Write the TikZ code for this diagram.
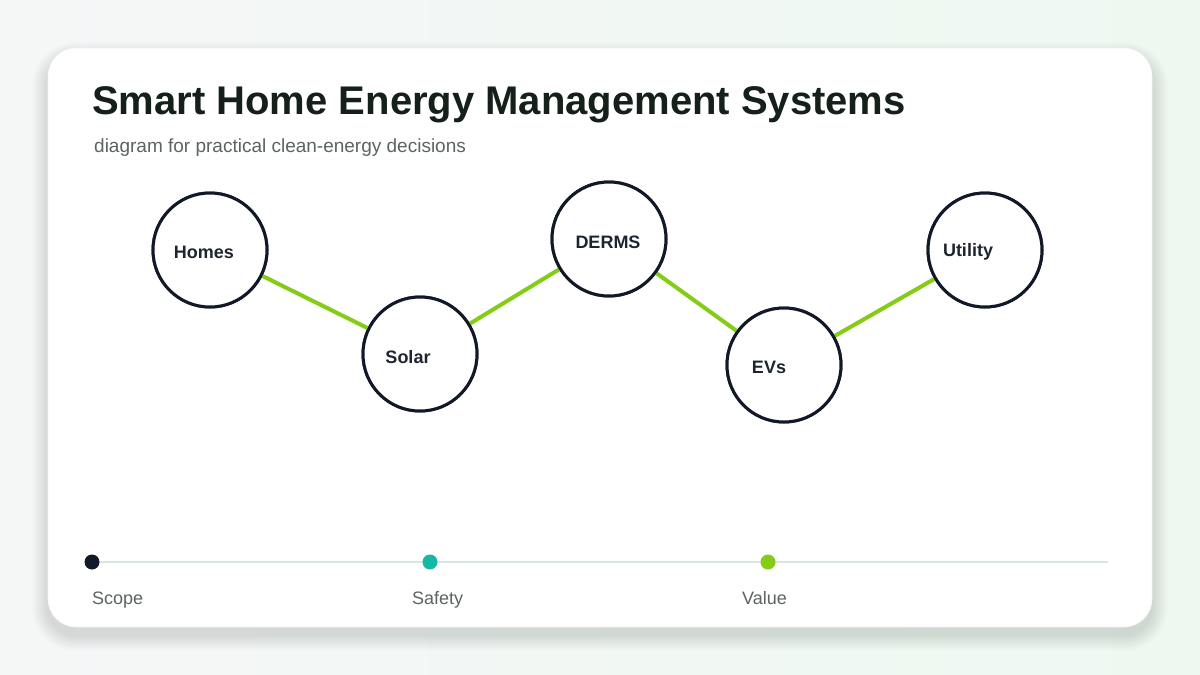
\documentclass[tikz,border=0pt]{standalone}
\usepackage{fontspec}
\setmainfont{Liberation Sans}
\definecolor{bgA}{HTML}{F5F7F7}
\definecolor{bgB}{HTML}{EEF8F1}
\definecolor{ink}{HTML}{111827}
\definecolor{titleink}{HTML}{142019}
\definecolor{subink}{HTML}{5B6461}
\definecolor{lime}{HTML}{84CC16}
\definecolor{teal}{HTML}{14B8A6}
\definecolor{track}{HTML}{D9E5E2}
\definecolor{nodeink}{HTML}{1F2530}
\definecolor{shadowc}{HTML}{2F5A4A}
\tikzset{
  hub/.style={circle, draw=ink, line width=3pt, fill=white, minimum size=114pt, inner sep=0pt},
  hublabel/.style={font=\fontsize{18}{21}\selectfont\bfseries, text=nodeink, anchor=center, inner sep=0pt},
  link/.style={draw=lime, line width=4pt},
  dot/.style={circle, inner sep=0pt, minimum size=15pt},
  steplabel/.style={font=\fontsize{18}{21}\selectfont, text=subink, anchor=base west, inner sep=0pt}
}
\begin{document}
\begin{tikzpicture}[x=1pt,y=-1pt]
\useasboundingbox (0,0) rectangle (1200,675);
\shade[left color=bgA, right color=bgB] (0,0) rectangle (1200,675);
% soft card shadow
\foreach \i in {1,...,16}{
  \fill[shadowc, opacity=0.008, rounded corners={28pt+\i pt}] ({48-\i},{58-\i}) rectangle ({1152+\i},{635+\i});
}
% card
\fill[white, rounded corners=28pt] (48,48) rectangle (1152,627);
\draw[draw=black!5, line width=0.6pt, rounded corners=28pt] (48,48) rectangle (1152,627);
% title
\node[anchor=base west, inner sep=0pt, font=\fontsize{40}{46}\selectfont\bfseries, text=titleink] (title) at (92,114) {Smart Home Energy Management Systems};
\node[anchor=base west, inner sep=0pt, font=\fontsize{19}{22}\selectfont, text=subink] (sub) at (94,152) {diagram for practical clean-energy decisions};
% hubs
\node[hub] (homes) at (210,250) {};
\node[hub] (solar) at (420,354) {};
\node[hub] (derms) at (609,239) {};
\node[hub] (evs) at (784,365) {};
\node[hub] (utility) at (985,250) {};
\draw[link] (homes) -- (solar);
\draw[link] (solar) -- (derms);
\draw[link] (derms) -- (evs);
\draw[link] (evs) -- (utility);
\node[hub] at (homes) {};
\node[hub] at (solar) {};
\node[hub] at (derms) {};
\node[hub] at (evs) {};
\node[hub] at (utility) {};
\node[hublabel] (lhomes) at (204,252) {Homes};
\node[hublabel] (lsolar) at (408,357) {Solar};
\node[hublabel] (lderms) at (608,242) {DERMS};
\node[hublabel] (levs) at (769,367) {EVs};
\node[hublabel] (lutility) at (968,252) {Utility};
% timeline
\coordinate (tl0) at (92,562);
\coordinate (tl1) at (1108,562);
\draw[draw=track, line width=2pt] (tl0) -- (tl1);
\node[dot, fill=ink] (d1) at (92,562) {};
\node[dot, fill=teal] (d2) at (430,562) {};
\node[dot, fill=lime] (d3) at (768,562) {};
\node[steplabel] (s1) at (92,604) {Scope};
\node[steplabel] (s2) at (412,604) {Safety};
\node[steplabel] (s3) at (742,604) {Value};
\end{tikzpicture}
\end{document}
